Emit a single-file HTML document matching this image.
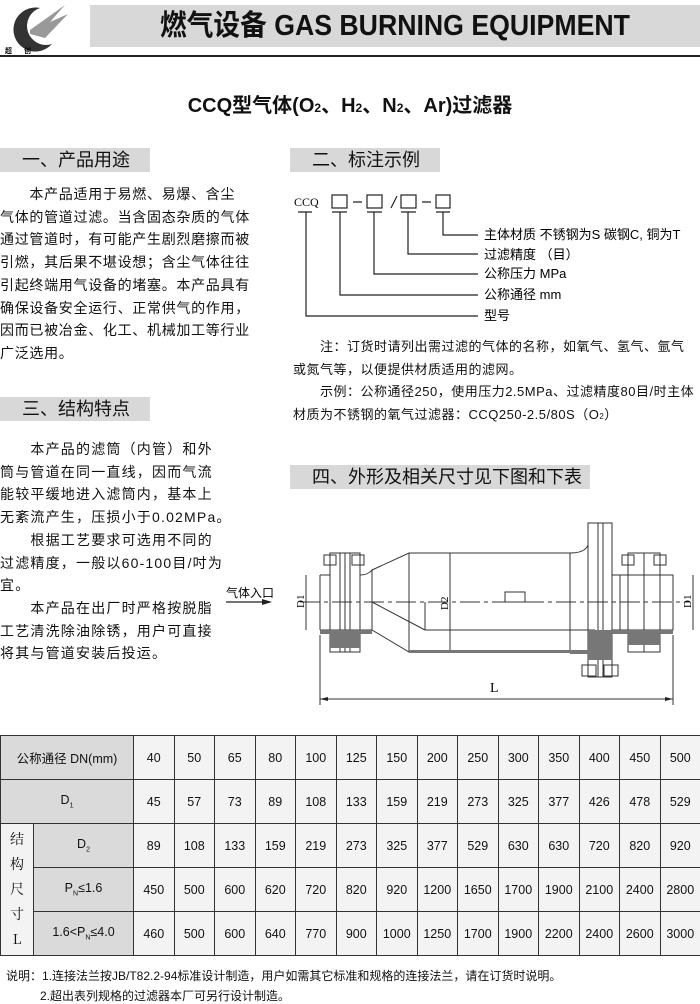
<!DOCTYPE html>
<html><head><meta charset="utf-8"><style>
body{margin:0;width:700px;height:1004px;background:#fff;position:relative;overflow:hidden;font-family:"Liberation Sans","Noto Sans CJK SC",sans-serif;color:#111}
.a{position:absolute;white-space:nowrap}
.hdr{position:absolute;background:#d8d8d8;height:24px;font-size:18px;line-height:24px;padding-left:22px;box-sizing:border-box}
.p{position:absolute;font-size:14px;line-height:22.7px;white-space:nowrap}
table{position:absolute;left:0;top:735px;border-collapse:collapse;width:700px;table-layout:fixed;font-family:"Liberation Sans","Noto Sans CJK SC",sans-serif;font-size:12.5px}
td{border:1.5px solid #333;text-align:center;height:43px;padding:0;background:#f3f3f3;overflow:hidden}
td.g{background:#dadada}
</style></head><body>
<svg class="a" style="left:0;top:0" width="70" height="56">
<path d="M40 8 A22 22 0 1 0 52 44 A17 17 0 1 1 40 8Z" fill="#333"/>
<path d="M30 30 L65 5 L50 22 L68 14 L45 38 L30 34Z" fill="#999"/>
<text x="5" y="53" font-size="7" font-weight="bold">超</text><text x="24" y="53" font-size="7" font-weight="bold">创</text>
</svg>
<div class="a" style="left:90px;top:5px;width:610px;height:42px;background:#d8d8d8"></div>
<div class="a" style="left:90px;top:5px;width:610px;height:42px;line-height:42px;text-align:center;font-size:29px;font-weight:bold;transform:scaleX(0.92)">燃气设备 GAS BURNING EQUIPMENT</div>
<div class="a" style="left:0;top:55px;width:700px;height:2px;background:#222"></div>
<div class="a" style="left:0;top:89px;width:700px;text-align:center;font-size:20px;font-weight:bold">CCQ型气体(O<span style="font-size:12px">2</span>、H<span style="font-size:12px">2</span>、N<span style="font-size:12px">2</span>、Ar)过滤器</div>

<div class="hdr" style="left:0;top:148px;width:150px">一、产品用途</div>
<div class="p" style="left:0;top:183px;letter-spacing:0.7px">　　本产品适用于易燃、易爆、含尘<br>气体的管道过滤。当含固态杂质的气体<br>通过管道时，有可能产生剧烈磨擦而被<br>引燃，其后果不堪设想；含尘气体往往<br>引起终端用气设备的堵塞。本产品具有<br>确保设备安全运行、正常供气的作用，<br>因而已被冶金、化工、机械加工等行业<br>广泛选用。</div>
<div class="hdr" style="left:0;top:397px;width:150px">三、结构特点</div>
<div class="p" style="left:0;top:438px;letter-spacing:1.2px">　　本产品的滤筒（内管）和外<br>筒与管道在同一直线，因而气流<br>能较平缓地进入滤筒内，基本上<br>无紊流产生，压损小于0.02MPa。<br>　　根据工艺要求可选用不同的<br>过滤精度，一般以60-100目/吋为<br>宜。<br>　　本产品在出厂时严格按脱脂<br>工艺清洗除油除锈，用户可直接<br>将其与管道安装后投运。</div>

<div class="hdr" style="left:290px;top:148px;width:150px">二、标注示例</div>
<svg class="a" style="left:280px;top:180px" width="420" height="150" font-size="13" font-family="Liberation Sans,Noto Sans CJK SC,sans-serif">
<text x="14" y="26" font-family="Liberation Serif,serif" font-size="12">CCQ</text>
<g fill="none" stroke="#222" stroke-width="1.2">
<rect x="52" y="15" width="15" height="13"/><rect x="87" y="15" width="15" height="13"/><rect x="121" y="15" width="15" height="13"/><rect x="156" y="15" width="14" height="13"/>
<path d="M73 22H82M142 22H151M111 28L117 16"/>
<path d="M18 32H32M52 32H67M87 32H102M121 32H136M156 32H170"/>
<path d="M26 32V136H198M60 32V115H198M94 32V94H198M128 32V74H198M163 32V55H198"/>
</g>
<text x="204" y="59">主体材质 不锈钢为S 碳钢C, 铜为T</text>
<text x="204" y="79">过滤精度 （目）</text>
<text x="204" y="98">公称压力 MPa</text>
<text x="204" y="119">公称通径 mm</text>
<text x="204" y="140">型号</text>
</svg>
<div class="a" style="left:293px;top:336px;font-size:13px;line-height:22.5px;letter-spacing:0.5px">　　注：订货时请列出需过滤的气体的名称，如氧气、氢气、氩气<br>或氮气等，以便提供材质适用的滤网。<br>　　示例：公称通径250，使用压力2.5MPa、过滤精度80目/时主体<br>材质为不锈钢的氧气过滤器：CCQ250-2.5/80S（O<span style="font-size:8px">2</span>）</div>
<div class="hdr" style="left:290px;top:465px;width:300px">四、外形及相关尺寸见下图和下表</div>

<svg class="a" style="left:0;top:0" width="700" height="735" font-family="Liberation Serif,serif">
<text x="226" y="597" font-size="12" font-family="Noto Sans CJK SC,sans-serif">气体入口</text>
<path d="M226 602H270" stroke="#222" stroke-width="1.2"/><path d="M262 599L272 602L262 605Z" fill="#222"/>
<g fill="none" stroke="#333" stroke-width="1">
<path d="M300 602H690" stroke-dasharray="20 4 4 4"/>
<path d="M320 575V630M320 575H330M360 575Q368 575 372 570V630M320 630H372"/>
<path d="M330 553H360V652H330Z M340 553V652M345 553V652M350 553V652"/>
<path d="M372 570L409 553H570Q585 553 588 545M372 630L409 652H570"/>
<path d="M409 553V652M372 602L425 630M425 602V630M425 630H595M570 553V652"/>
<path d="M588 523H612V677H588Z M598 523V677M603 523V677"/>
<path d="M612 575H673V630H612M628 553H660V652H628ZM644 553V652M620 575V630"/>
<path d="M450 553V652M306 575V630M693 575V630M320 635V705M673 635V705M320 699H673"/>
<rect x="505" y="592" width="20" height="10"/>
</g>
<g fill="#777"><path d="M320 630H372V634H320Z M330 630H360V648H330Z M588 630H612V660H588Z M612 630H673V634H612Z M628 630H660V645H628Z M570 650H588V654H570Z M409 650H570V653H409Z"/></g>
<g fill="none" stroke="#333"><rect x="324" y="555" width="12" height="10"/><rect x="352" y="555" width="12" height="10"/><rect x="582" y="665" width="14" height="11"/><rect x="604" y="665" width="14" height="11"/><rect x="622" y="555" width="12" height="10"/><rect x="654" y="555" width="12" height="10"/></g>
<path d="M320 699l8 -2v4zM673 699l-8 -2v4z" fill="#222"/>
<text x="490" y="692" font-size="14">L</text>
<text transform="translate(304,608) rotate(-90)" font-size="11">D1</text>
<text transform="translate(448,610) rotate(-90)" font-size="11">D2</text>
<text transform="translate(691,608) rotate(-90)" font-size="11">D1</text>
</svg>

<table>
<colgroup><col style="width:33px"><col style="width:100px"><col style="width:40.5px"><col style="width:40.5px"><col style="width:40.5px"><col style="width:40.5px"><col style="width:40.5px"><col style="width:40.5px"><col style="width:40.5px"><col style="width:40.5px"><col style="width:40.5px"><col style="width:40.5px"><col style="width:40.5px"><col style="width:40.5px"><col style="width:40.5px"><col style="width:40.5px"></colgroup>
<tr><td class="g" colspan="2">公称通径 DN(mm)</td><td>40</td><td>50</td><td>65</td><td>80</td><td>100</td><td>125</td><td>150</td><td>200</td><td>250</td><td>300</td><td>350</td><td>400</td><td>450</td><td>500</td></tr>
<tr><td class="g" colspan="2">D<sub style="font-size:7px">1</sub></td><td>45</td><td>57</td><td>73</td><td>89</td><td>108</td><td>133</td><td>159</td><td>219</td><td>273</td><td>325</td><td>377</td><td>426</td><td>478</td><td>529</td></tr>
<tr><td rowspan="3" style="font-family:'Noto Serif CJK SC',serif;line-height:25px;font-size:14px">结<br>构<br>尺<br>寸<br>L</td><td class="g">D<sub style="font-size:7px">2</sub></td><td>89</td><td>108</td><td>133</td><td>159</td><td>219</td><td>273</td><td>325</td><td>377</td><td>529</td><td>630</td><td>630</td><td>720</td><td>820</td><td>920</td></tr>
<tr><td class="g">P<sub style="font-size:7px">N</sub>≤1.6</td><td>450</td><td>500</td><td>600</td><td>620</td><td>720</td><td>820</td><td>920</td><td>1200</td><td>1650</td><td>1700</td><td>1900</td><td>2100</td><td>2400</td><td>2800</td></tr>
<tr><td class="g">1.6&lt;P<sub style="font-size:7px">N</sub>≤4.0</td><td>460</td><td>500</td><td>600</td><td>640</td><td>770</td><td>900</td><td>1000</td><td>1250</td><td>1700</td><td>1900</td><td>2200</td><td>2400</td><td>2600</td><td>3000</td></tr>
</table>
<div class="a" style="left:6px;top:967px;font-size:12px">说明：1.连接法兰按JB/T82.2-94标准设计制造，用户如需其它标准和规格的连接法兰，请在订货时说明。</div>
<div class="a" style="left:40px;top:987px;font-size:12px">2.超出表列规格的过滤器本厂可另行设计制造。</div>
</body></html>
